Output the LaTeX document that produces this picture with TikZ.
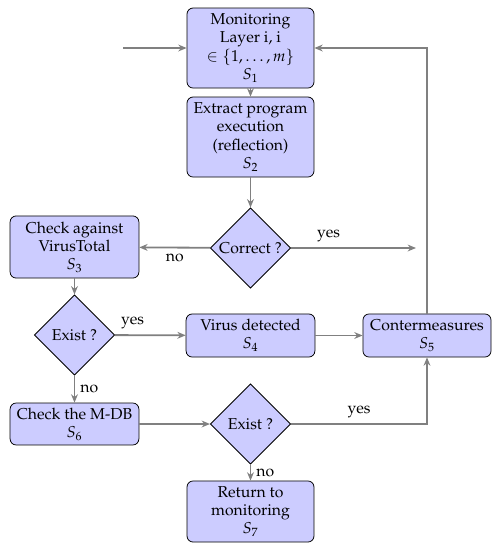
\documentclass[tikz,border=0pt]{standalone}
\usepackage[T1]{fontenc}
\usepackage{mathpazo}
\usetikzlibrary{shapes.geometric,arrows.meta}
\begin{document}
\begin{tikzpicture}[x=0.66pt,y=-0.66pt,
  every node/.style={font=\fontsize{10.4}{12}\selectfont},
  box/.style={draw, rounded corners=4pt, fill=blue!20, align=center, inner sep=0pt, line width=0.5pt},
  dec/.style={draw, diamond, aspect=1, fill=blue!20, inner sep=0pt, minimum size=53pt, line width=0.5pt},
  conn/.style={draw=gray, line width=1.2pt, -{Stealth[length=5.5pt,width=4.5pt]}}]
\useasboundingbox (0,0) rectangle (500,550);
\node[box, minimum width=83.8pt, minimum height=52.8pt] (s1) at (250.5,48) {Monitoring\\Layer i, i\\$\in\{1,\ldots,m\}$\\$S_1$};
\node[box, minimum width=83.8pt, minimum height=52.8pt] (s2) at (250.5,137) {Extract program\\execution\\(reflection)\\$S_2$};
\node[box, minimum width=85pt, minimum height=41pt] (s3) at (74.5,247) {Check against\\VirusTotal\\$S_3$};
\node[dec] (dc) at (250.5,248) {Correct ?};
\node[dec] (e1) at (74.5,335) {Exist ?};
\node[box, minimum width=85pt, minimum height=28.4pt] (s4) at (250.5,335.5) {Virus detected\\$S_4$};
\node[box, minimum width=84.5pt, minimum height=28.4pt] (s5) at (427,335.5) {Contermeasures\\$S_5$};
\node[box, minimum width=85pt, minimum height=27.7pt] (s6) at (74.5,424) {Check the M-DB\\$S_6$};
\node[dec] (e2) at (250.5,424) {Exist ?};
\node[box, minimum width=83.8pt, minimum height=40.3pt] (s7) at (250.5,511.5) {Return to\\monitoring\\$S_7$};
\coordinate (in) at (123,48);
\coordinate (yesend) at (416,248);
\draw[conn] (in) -- (s1.west);
\draw[conn] (s1) -- (s2);
\draw[conn] (s2) -- (dc);
\draw[conn] (dc) -- node[below]{no} (s3);
\draw[conn] (dc.east) -- node[above, pos=0.3]{yes} (yesend);
\draw[conn] (s5.north) |- (s1.east);
\draw[conn] (s3) -- (e1);
\draw[conn] (e1) -- node[above, pos=0.25]{yes} (s4);
\draw[conn] (s4) -- (s5);
\draw[conn] (e1) -- node[right]{no} (s6);
\draw[conn] (s6) -- (e2);
\draw[conn] (e2.east) -| node[above, pos=0.25]{yes} (s5.south);
\draw[conn] (e2) -- node[right]{no} (s7);
\end{tikzpicture}
\end{document}
